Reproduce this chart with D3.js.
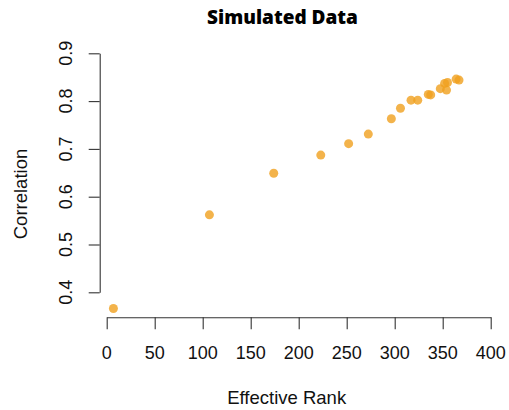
<!DOCTYPE html>
<html>
<head>
<meta charset="utf-8">
<script src="https://cdn.jsdelivr.net/npm/d3@7"></script>
<style>
  html, body { margin: 0; padding: 0; background: #fff; }
  svg { display: block; }
  .tick-label { font-family: "Liberation Sans", Arial, Helvetica, sans-serif; font-size: 18px; fill: #111; }
  .axis-title { font-family: "Liberation Sans", Arial, Helvetica, sans-serif; font-size: 18.5px; fill: #111; }
  .chart-title { font-family: "Open Sans", Lato, sans-serif; font-weight: 800; font-size: 19px; fill: #000; }
</style>
</head>
<body>
<script>
// Effective rank vs. correlation for the simulated runs
const effectiveRank = [7, 107, 174, 223, 252, 272.5, 296.5, 306, 317, 324, 335, 337.5, 347.5, 352, 355, 354, 364, 367];
const correlation   = [0.366, 0.562, 0.649, 0.687, 0.711, 0.731, 0.763, 0.785, 0.802, 0.802, 0.814, 0.813, 0.826, 0.837, 0.839, 0.823, 0.846, 0.844];
const xTicks = [0, 50, 100, 150, 200, 250, 300, 350, 400];
const yTicks = [0.4, 0.5, 0.6, 0.7, 0.8, 0.9];

const W = 509, H = 410;
const svg = d3.select("body").append("svg").attr("width", W).attr("height", H);

const x = d3.scaleLinear().domain([0, 400]).range([106.7, 490.7]);
const y = d3.scaleLinear().domain([0.4, 0.9]).range([292.3, 53.3]);

const axisColor = "#333";

// x axis
const gx = svg.append("g").attr("transform", "translate(0,317.3)")
  .call(d3.axisBottom(x).tickValues(xTicks).tickSize(12).tickSizeOuter(0).tickFormat(""));
gx.selectAll("path, line").attr("stroke", axisColor).attr("stroke-width", 1.1);
svg.append("g").selectAll("text").data(xTicks).join("text")
  .attr("class", "tick-label")
  .attr("x", d => x(d)).attr("y", 353).attr("dy", "0.35em")
  .attr("text-anchor", "middle").text(d => d3.format("d")(d));

// y axis
const gy = svg.append("g").attr("transform", "translate(99.7,0)")
  .call(d3.axisLeft(y).tickValues(yTicks).tickSize(11).tickSizeOuter(0).tickFormat(""));
gy.selectAll("path, line").attr("stroke", axisColor).attr("stroke-width", 1.1);
svg.append("g").selectAll("text").data(yTicks).join("text")
  .attr("class", "tick-label")
  .attr("transform", d => `translate(66,${y(d)}) rotate(-90)`)
  .attr("dy", "0.35em").attr("text-anchor", "middle")
  .text(d => d3.format(".1f")(d));

// points
svg.append("g").selectAll("circle")
  .data(effectiveRank.map((r, i) => ({ r, c: correlation[i] })))
  .join("circle")
  .attr("cx", d => x(d.r)).attr("cy", d => y(d.c)).attr("r", 4.5)
  .attr("fill", "rgb(240,160,30)").attr("fill-opacity", 0.8);

// titles
svg.append("text").attr("class", "chart-title")
  .attr("x", 282.5).attr("y", 17).attr("dy", "0.35em").attr("text-anchor", "middle")
  .text("Simulated Data");
svg.append("text").attr("class", "axis-title")
  .attr("x", 286.7).attr("y", 398).attr("dy", "0.35em").attr("text-anchor", "middle")
  .text("Effective Rank");
svg.append("text").attr("class", "axis-title")
  .attr("transform", "translate(21,194) rotate(-90)")
  .attr("dy", "0.35em").attr("text-anchor", "middle")
  .text("Correlation");
</script>
</body>
</html>
